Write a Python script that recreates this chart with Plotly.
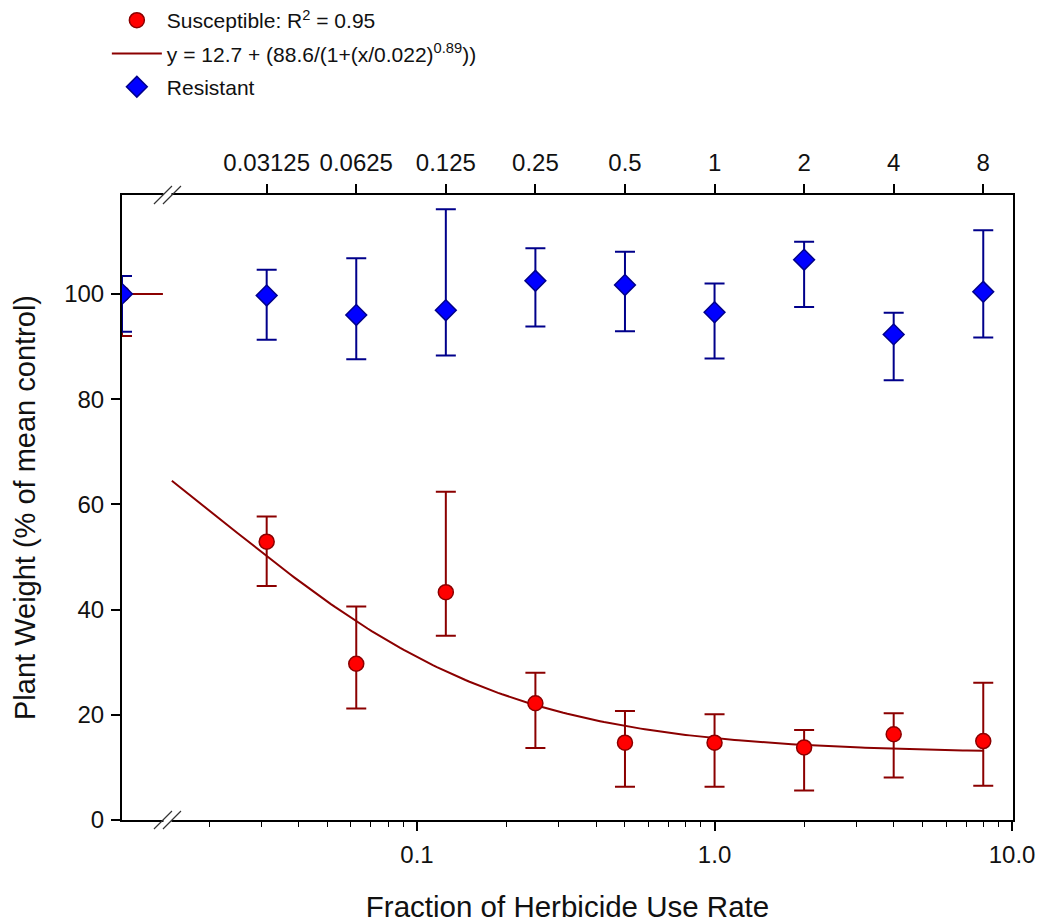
import numpy as np
import plotly.graph_objects as go

# ---------------- data ----------------
doses = [0.03125, 0.0625, 0.125, 0.25, 0.5, 1, 2, 4, 8]
dose_labels = ["0.03125", "0.0625", "0.125", "0.25", "0.5", "1", "2", "4", "8"]

sus_mean = [52.9, 29.7, 43.3, 22.2, 14.7, 14.7, 13.8, 16.3, 15.0]
sus_upper = [57.7, 40.6, 62.4, 28.0, 20.7, 20.1, 17.1, 20.3, 26.1]
sus_lower = [44.5, 21.2, 35.0, 13.7, 6.3, 6.3, 5.6, 8.1, 6.5]

res_mean = [99.7, 96.0, 96.9, 102.5, 101.7, 96.5, 106.5, 92.3, 100.4]
res_upper = [104.6, 106.8, 116.1, 108.7, 108.0, 102.0, 109.9, 96.4, 112.1]
res_lower = [91.3, 87.6, 88.3, 93.8, 92.9, 87.7, 97.5, 83.6, 91.7]

# untreated control (plotted left of the axis break)
sus_ctrl = [100.0, 100.0, 92.0]   # mean, upper, lower
res_ctrl = [100.0, 103.4, 92.8]

# fitted model  y = c + d/(1+(x/e)^b)
fit_c, fit_d, fit_e, fit_b = 12.7, 88.6, 0.022, 0.89
fit_start, fit_end = 0.015, 8.0

bottom_ticks = [0.1, 1, 10]
bottom_labels = ["0.1", "1.0", "10.0"]
minor_ticks = [0.02, 0.03, 0.04, 0.05, 0.06, 0.07, 0.08, 0.09,
               0.2, 0.3, 0.4, 0.5, 0.6, 0.7, 0.8, 0.9,
               2, 3, 4, 5, 6, 7, 8, 9]
y_ticks = [0, 20, 40, 60, 80, 100]

# axis extents
x_min, x_max = 0.0102, 10.07
x_break = 0.0145
ctrl_seg_end = 0.014
y_max = 118.8

# ---------------- derived ----------------
ctrl_x = x_min
xs = [ctrl_x] + doses
s_mean = [sus_ctrl[0]] + sus_mean
s_up = [sus_ctrl[1] - sus_ctrl[0]] + [u - m for u, m in zip(sus_upper, sus_mean)]
s_dn = [sus_ctrl[0] - sus_ctrl[2]] + [m - l for l, m in zip(sus_lower, sus_mean)]
r_mean = [res_ctrl[0]] + res_mean
r_up = [res_ctrl[1] - res_ctrl[0]] + [u - m for u, m in zip(res_upper, res_mean)]
r_dn = [res_ctrl[0] - res_ctrl[2]] + [m - l for l, m in zip(res_lower, res_mean)]

fx = np.logspace(np.log10(fit_start), np.log10(fit_end), 200)
fy = fit_c + fit_d / (1 + (fx / fit_e) ** fit_b)

DKRED = "#8B0000"
NAVY = "#00008B"
FONT = "Liberation Sans, Arial, sans-serif"

fig = go.Figure()

fig.add_trace(go.Scatter(
    x=fx, y=fy, mode="lines", line=dict(color=DKRED, width=2),
    name="y = 12.7 + (88.6/(1+(x/0.022)<sup>0.89</sup>))",
    legendrank=2, legendgroup="b"))
fig.add_trace(go.Scatter(
    x=[ctrl_x, ctrl_seg_end], y=[sus_ctrl[0], sus_ctrl[0]], mode="lines",
    line=dict(color=DKRED, width=2), showlegend=False, hoverinfo="skip"))
fig.add_trace(go.Scatter(
    x=xs, y=s_mean, mode="markers",
    marker=dict(symbol="circle", size=15, color="#FF0000",
                line=dict(color=DKRED, width=1.5)),
    error_y=dict(type="data", symmetric=False, array=s_up, arrayminus=s_dn,
                 color=DKRED, thickness=2, width=10),
    name="Susceptible: R<sup>2</sup> = 0.95", legendrank=1, legendgroup="a"))
fig.add_trace(go.Scatter(
    x=xs, y=r_mean, mode="markers",
    marker=dict(symbol="diamond", size=16, color="#0000FF",
                line=dict(color=NAVY, width=1.5)),
    error_y=dict(type="data", symmetric=False, array=r_up, arrayminus=r_dn,
                 color=NAVY, thickness=2, width=10),
    name="Resistant", legendrank=3, legendgroup="c"))
# dummy trace to activate top axis
fig.add_trace(go.Scatter(x=[doses[0]], y=[None], xaxis="x2", showlegend=False,
                         hoverinfo="skip"))

lo, hi = np.log10(x_min), np.log10(x_max)
bfrac = (np.log10(x_break) - lo) / (hi - lo)

shapes = []
for yb in (0, 1):
    # white gap in the axis line
    shapes.append(dict(type="line", xref="paper", yref="paper", xsizemode="pixel",
                       ysizemode="pixel", xanchor=bfrac, yanchor=yb,
                       x0=-4, x1=4, y0=0, y1=0, line=dict(color="white", width=4),
                       layer="above"))
    for dx in (-4.5, 4.5):
        shapes.append(dict(type="line", xref="paper", yref="paper", xsizemode="pixel",
                           ysizemode="pixel", xanchor=bfrac, yanchor=yb,
                           x0=dx - 9, x1=dx + 9, y0=-9, y1=9,
                           line=dict(color="#333333", width=1.2), layer="above"))

fig.update_layout(
    width=1044, height=924,
    margin=dict(l=122, r=31, t=195, b=104, autoexpand=False),
    paper_bgcolor="white", plot_bgcolor="white",
    font=dict(family=FONT, size=24, color="#111111"),
    showlegend=True,
    legend=dict(x=-0.017, y=1.312, xanchor="left", yanchor="top",
                font=dict(size=21, family=FONT), bgcolor="rgba(0,0,0,0)",
                tracegroupgap=3, itemwidth=50),
    xaxis=dict(type="log", range=[lo, hi], tickvals=bottom_ticks, ticktext=bottom_labels,
               ticks="outside", ticklen=9, tickwidth=2, tickcolor="black",
               showline=True, linecolor="black", linewidth=2, showgrid=False,
               zeroline=False, tickfont=dict(size=24), ticklabelstandoff=3,
               automargin=False,
               minor=dict(tickvals=minor_ticks, ticks="outside", ticklen=5,
                          tickwidth=1, tickcolor="black", showgrid=False),
               title=dict(text="Fraction of Herbicide Use Rate", font=dict(size=29.5),
                          standoff=30)),
    xaxis2=dict(type="log", range=[lo, hi], overlaying="x", side="top",
                tickvals=doses, ticktext=dose_labels, ticks="outside", ticklen=9,
                tickwidth=2, tickcolor="black", showline=True, linecolor="black",
                linewidth=2, showgrid=False, zeroline=False, tickfont=dict(size=24),
                ticklabelstandoff=3, automargin=False),
    yaxis=dict(range=[0, y_max], tickvals=y_ticks, ticks="outside", ticklen=9,
               tickwidth=2, tickcolor="black", showline=True, linecolor="black",
               linewidth=2, mirror=True, showgrid=False, zeroline=False,
               tickfont=dict(size=24), ticklabelstandoff=2, automargin=False,
               title=dict(text="Plant Weight (% of mean control)", font=dict(size=29),
                          standoff=20)),
    shapes=shapes,
)

fig.write_html("out.html")
